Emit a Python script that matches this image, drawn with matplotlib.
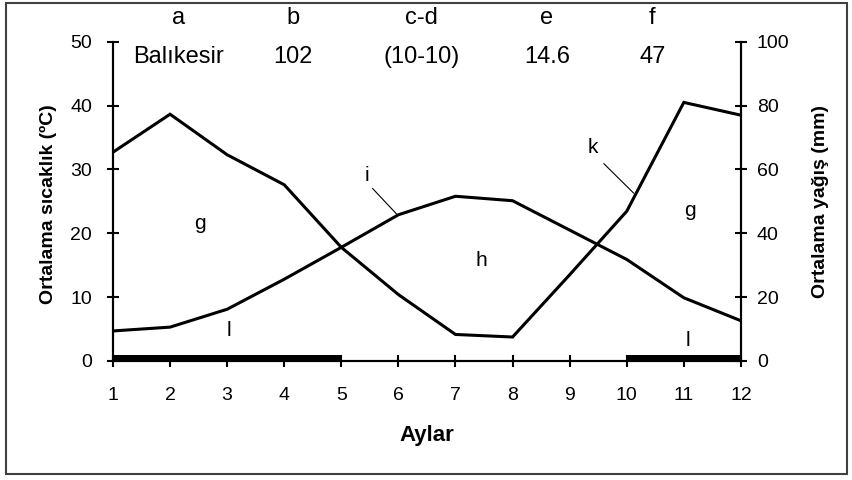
import matplotlib.pyplot as plt
from matplotlib.patches import Rectangle

plt.rcParams['font.family'] = ['Liberation Sans', 'DejaVu Sans']

months = [1, 2, 3, 4, 5, 6, 7, 8, 9, 10, 11, 12]
temperature = [4.7, 5.3, 8.1, 12.8, 17.8, 22.9, 25.8, 25.1, 20.5, 15.9, 9.9, 6.3]
precipitation = [65.4, 77.3, 64.6, 55.2, 35.6, 20.8, 8.3, 7.5, 27.0, 46.9, 81.0, 77.0]

# humid periods drawn as thick bars on the x axis
humid_start = [1, 10]
humid_end = [5, 12]

header_x = [2.15, 4.15, 6.4, 8.6, 10.45]
header_top = ["a", "b", "c-d", "e", "f"]
header_bottom = ["Balıkesir", "102", "(10-10)", "14.6", "47"]

fig = plt.figure(figsize=(8.52, 4.8), dpi=100)
ax = fig.add_axes([0.1326, 0.248, 0.737, 0.665])
ax2 = ax.twinx()

ax.plot(months, temperature, color="black", linewidth=2.2, solid_joinstyle="miter")
ax2.plot(months, precipitation, color="black", linewidth=2.2, solid_joinstyle="miter")

for s, e in zip(humid_start, humid_end):
    ax.broken_barh([(s, e - s)], (0, 1.0), facecolors="black")

ax.set_xlim(1, 12)
ax.set_ylim(0, 50)
ax2.set_ylim(0, 100)
ax.set_xticks(months)
ax.set_yticks([0, 10, 20, 30, 40, 50])
ax2.set_yticks([0, 20, 40, 60, 80, 100])

for a in (ax, ax2):
    a.spines["top"].set_visible(False)
    for sp in a.spines.values():
        sp.set_linewidth(1.5)
    a.tick_params(direction="inout", length=9, width=1.5, labelsize=14)
ax.tick_params(axis="x", pad=14)
ax.tick_params(axis="y", pad=10.5)
ax2.tick_params(axis="y", pad=7)

ax.set_xlabel("Aylar", fontsize=16, fontweight="bold")
ax.xaxis.set_label_coords(0.5, -0.2)
ax.set_ylabel("Ortalama sıcaklık (ºC)", fontsize=14, fontweight="bold")
ax.yaxis.set_label_coords(-0.089, 0.49)
ax2.set_ylabel("Ortalama yağış (mm)", fontsize=14, fontweight="bold")
ax2.yaxis.set_label_coords(1.113, 0.5)

for x, t, b in zip(header_x, header_top, header_bottom):
    ax.text(x, 53.7, t, ha="center", va="center", fontsize=17, clip_on=False)
    ax.text(x, 47.6, b, ha="center", va="center", fontsize=17, clip_on=False)

ax.text(2.53, 21.5, "g", ha="center", va="center", fontsize=15)
ax.text(11.1, 23.5, "g", ha="center", va="center", fontsize=15)
ax.text(7.45, 15.8, "h", ha="center", va="center", fontsize=15)
ax.text(5.45, 29.0, "i", ha="center", va="center", fontsize=15)
ax.text(9.4, 33.5, "k", ha="center", va="center", fontsize=15)
ax.text(3.03, 4.7, "l", ha="center", va="center", fontsize=15)
ax.text(11.07, 3.2, "l", ha="center", va="center", fontsize=15)
ax.plot([5.55, 5.97], [27.0, 23.0], color="black", linewidth=0.8)
ax.plot([9.6, 10.12], [30.9, 26.3], color="black", linewidth=0.8)

fig.patches.append(Rectangle((0.007, 0.0125), 0.987, 0.981, transform=fig.transFigure,
                             fill=False, edgecolor="#404040", linewidth=1.5))

fig.savefig("out.png", dpi=100)
